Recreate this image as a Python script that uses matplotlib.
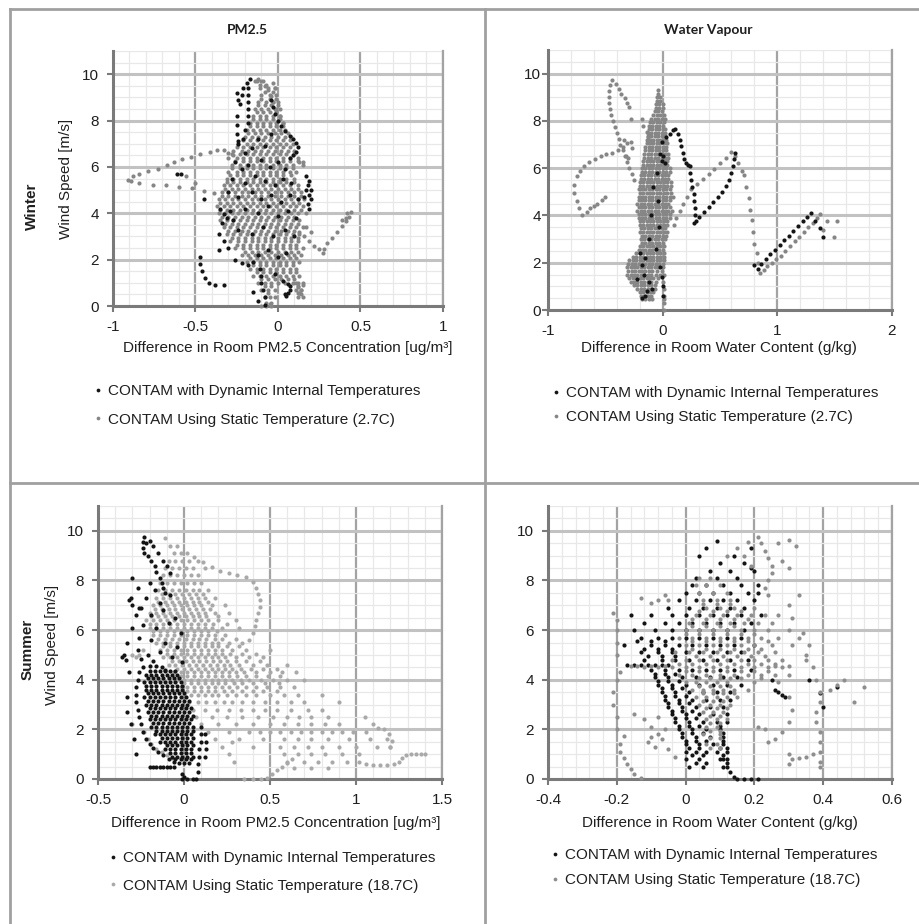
import matplotlib.pyplot as plt
from matplotlib.lines import Line2D
from matplotlib.ticker import MultipleLocator

plt.rcParams['font.family'] = ['Liberation Sans', 'DejaVu Sans']
plt.rcParams['axes.unicode_minus'] = False

# Values (x = difference, y = wind speed m/s)
# Clouds are given as rows: (wind speed, [differences...])

# ---- Winter, PM2.5 ----
w_pm_dyn_top = [(-0.25, 9.2), (-0.24, 8.9), (-0.23, 8.7), (-0.22, 9.1), (-0.21, 9.4),
                (-0.19, 9.6), (-0.17, 9.8), (-0.18, 9.4), (-0.18, 9.1), (-0.18, 8.8),
                (-0.18, 8.5), (-0.18, 8.2), (-0.18, 7.9), (-0.25, 8.2), (-0.25, 7.8),
                (-0.25, 7.4), (-0.24, 7.1), (-0.2, 7.6), (-0.21, 7.2)]
w_pm_dyn_curve = [(-0.04, 8.9), (-0.03, 8.6), (-0.02, 8.3), (0.0, 8.0), (0.02, 7.75),
                  (0.04, 7.55), (0.07, 7.35), (0.09, 7.2), (0.11, 7.05), (0.12, 6.85),
                  (0.11, 6.65), (0.09, 6.5), (0.07, 6.4)]
w_pm_dyn_side = [(0.17, 5.6), (0.19, 5.4), (0.18, 5.2), (0.2, 5.0), (0.19, 4.8), (0.2, 4.6),
                 (0.18, 4.4), (0.19, 4.2), (0.17, 5.0), (0.16, 4.7), (0.04, 0.5), (0.05, 0.45),
                 (0.06, 0.55), (0.07, 0.7), (0.07, 0.85), (0.06, 0.95), (-0.59, 5.7),
                 (-0.61, 5.7), (-0.45, 4.6), (-0.47, 2.1), (-0.47, 1.8), (-0.46, 1.5),
                 (-0.44, 1.2), (-0.42, 1.0), (-0.38, 0.9), (-0.33, 0.9)]
w_pm_dyn_cloud = [(-0.24, 7.0), (-0.2, 6.6), (-0.16, 6.8), (-0.12, 7.2), (-0.08, 6.9), (-0.04, 7.4),
                  (-0.26, 6.2), (-0.22, 5.9), (-0.18, 6.1), (-0.1, 6.3), (-0.05, 6.0), (0.0, 6.2),
                  (0.04, 5.9), (-0.28, 5.5), (-0.2, 5.3), (-0.14, 5.6), (-0.08, 5.4), (-0.02, 5.2),
                  (0.03, 5.5), (0.08, 5.3), (-0.3, 4.9), (-0.24, 4.7), (-0.16, 4.9), (-0.1, 4.6),
                  (-0.04, 4.8), (0.02, 4.5), (0.07, 4.8), (0.12, 4.6), (-0.35, 4.2), (-0.33, 3.95),
                  (-0.31, 3.8), (-0.29, 4.1), (-0.34, 3.6), (-0.27, 3.7), (-0.2, 4.2), (-0.12, 4.0),
                  (-0.06, 4.3), (0.0, 3.9), (0.06, 4.1), (0.11, 3.8), (-0.36, 3.1), (-0.33, 2.8),
                  (-0.3, 2.5), (-0.36, 2.4), (-0.24, 3.3), (-0.16, 3.1), (-0.09, 3.4), (-0.03, 3.0),
                  (0.04, 3.3), (0.1, 3.0), (-0.26, 2.0), (-0.22, 1.85), (-0.18, 1.75), (-0.15, 1.9),
                  (-0.12, 2.2), (-0.06, 2.4), (0.0, 2.1), (0.05, 2.3), (-0.11, 1.6), (-0.1, 1.3),
                  (-0.1, 1.0), (-0.09, 0.7), (-0.08, 0.4), (-0.02, 1.4), (0.03, 1.1), (-0.15, 0.6),
                  (-0.12, 0.2), (-0.08, 0.05)]
w_pm_stat_rows = [
    (9.7, [-0.13, -0.09]), (9.4, [-0.11, -0.06, -0.02]), (9.1, [-0.1, -0.05, -0.01]),
    (8.8, [-0.12, -0.07, -0.03, 0.0]), (8.5, [-0.14, -0.1, -0.06, -0.02, 0.01]),
    (8.2, [-0.15, -0.11, -0.07, -0.03, 0.01]), (7.9, [-0.17, -0.13, -0.09, -0.05, -0.01, 0.03]),
    (7.6, [-0.19, -0.15, -0.11, -0.07, -0.03, 0.01, 0.04]),
    (7.3, [-0.2, -0.16, -0.12, -0.08, -0.04, 0.0, 0.04, 0.08]),
    (7.0, [-0.24, -0.19, -0.15, -0.11, -0.07, -0.03, 0.01, 0.05, 0.09]),
    (6.7, [-0.27, -0.22, -0.18, -0.14, -0.1, -0.06, -0.02, 0.02, 0.06, 0.1]),
    (6.4, [-0.3, -0.25, -0.21, -0.17, -0.13, -0.09, -0.05, -0.01, 0.03, 0.07, 0.12]),
    (6.1, [-0.28, -0.23, -0.19, -0.15, -0.11, -0.07, -0.03, 0.01, 0.05, 0.09, 0.15]),
    (5.8, [-0.3, -0.25, -0.21, -0.17, -0.13, -0.09, -0.05, -0.01, 0.03, 0.07, 0.11]),
    (5.5, [-0.31, -0.27, -0.23, -0.19, -0.15, -0.11, -0.07, -0.03, 0.01, 0.05, 0.1]),
    (5.2, [-0.33, -0.29, -0.25, -0.21, -0.17, -0.13, -0.09, -0.05, -0.01, 0.03, 0.07, 0.12]),
    (4.9, [-0.34, -0.3, -0.26, -0.22, -0.18, -0.14, -0.1, -0.06, -0.02, 0.02, 0.06, 0.1, 0.14]),
    (4.6, [-0.36, -0.32, -0.28, -0.24, -0.2, -0.16, -0.12, -0.08, -0.04, 0.0, 0.04, 0.08, 0.12,
           0.16]),
    (4.3, [-0.37, -0.33, -0.29, -0.25, -0.21, -0.17, -0.13, -0.09, -0.05, -0.01, 0.03, 0.07,
           0.11, 0.15]),
    (4.0, [-0.36, -0.32, -0.28, -0.24, -0.2, -0.16, -0.12, -0.08, -0.04, 0.0, 0.04, 0.08, 0.12,
           0.17]),
    (3.7, [-0.35, -0.31, -0.27, -0.23, -0.19, -0.15, -0.11, -0.07, -0.03, 0.01, 0.05, 0.09,
           0.13]),
    (3.4, [-0.33, -0.29, -0.25, -0.21, -0.17, -0.13, -0.09, -0.05, -0.01, 0.03, 0.07, 0.11,
           0.15]),
    (3.1, [-0.31, -0.27, -0.23, -0.19, -0.15, -0.11, -0.07, -0.03, 0.01, 0.05, 0.09, 0.13]),
    (2.8, [-0.29, -0.24, -0.2, -0.16, -0.12, -0.08, -0.04, 0.0, 0.04, 0.08, 0.12]),
    (2.5, [-0.26, -0.21, -0.17, -0.13, -0.09, -0.05, -0.01, 0.03, 0.07, 0.11, 0.15]),
    (2.2, [-0.22, -0.18, -0.14, -0.1, -0.06, -0.02, 0.02, 0.06, 0.1, 0.14]),
    (1.9, [-0.19, -0.15, -0.11, -0.07, -0.03, 0.01, 0.05, 0.09, 0.13]),
    (1.6, [-0.17, -0.13, -0.09, -0.05, -0.01, 0.03, 0.07, 0.11]),
    (1.3, [-0.15, -0.11, -0.07, -0.03, 0.01, 0.05, 0.09, 0.13]),
    (1.0, [-0.12, -0.08, -0.04, 0.0, 0.04, 0.09, 0.12, 0.15]),
    (0.7, [-0.1, -0.06, -0.02, 0.11, 0.14]), (0.4, [-0.08, -0.05, -0.02, 0.12, 0.15]),
    (0.15, [-0.07, -0.04])]
w_pm_stat_fill = [
    (9.55, [-0.11, -0.07]), (9.25, [-0.08, -0.03]), (8.95, [-0.1, -0.05, -0.01]),
    (8.65, [-0.12, -0.08, -0.04, 0.0]), (8.35, [-0.13, -0.09, -0.05, -0.01]),
    (8.05, [-0.15, -0.11, -0.07, -0.03, 0.01]), (7.75, [-0.17, -0.13, -0.09, -0.05, -0.01, 0.03]),
    (7.45, [-0.18, -0.14, -0.1, -0.06, -0.02, 0.02, 0.06]),
    (7.15, [-0.21, -0.17, -0.13, -0.09, -0.05, -0.01, 0.03, 0.07]),
    (6.85, [-0.25, -0.21, -0.17, -0.13, -0.09, -0.05, -0.01, 0.03, 0.07]),
    (6.55, [-0.28, -0.23, -0.19, -0.15, -0.11, -0.07, -0.03, 0.01, 0.05, 0.1]),
    (6.25, [-0.26, -0.21, -0.17, -0.13, -0.09, -0.05, -0.01, 0.03, 0.07, 0.12]),
    (5.95, [-0.28, -0.23, -0.19, -0.15, -0.11, -0.07, -0.03, 0.01, 0.05, 0.09]),
    (5.65, [-0.29, -0.25, -0.21, -0.17, -0.13, -0.09, -0.05, -0.01, 0.03, 0.08]),
    (5.35, [-0.31, -0.27, -0.23, -0.19, -0.15, -0.11, -0.07, -0.03, 0.01, 0.05, 0.1]),
    (5.05, [-0.32, -0.28, -0.24, -0.2, -0.16, -0.12, -0.08, -0.04, 0.0, 0.04, 0.08, 0.12]),
    (4.75, [-0.34, -0.3, -0.26, -0.22, -0.18, -0.14, -0.1, -0.06, -0.02, 0.02, 0.06, 0.1, 0.14]),
    (4.45, [-0.35, -0.31, -0.27, -0.23, -0.19, -0.15, -0.11, -0.07, -0.03, 0.01, 0.05, 0.09,
            0.13]),
    (4.15, [-0.35, -0.31, -0.27, -0.23, -0.19, -0.15, -0.11, -0.07, -0.03, 0.01, 0.05, 0.1,
            0.14]),
    (3.85, [-0.34, -0.3, -0.26, -0.22, -0.18, -0.14, -0.1, -0.06, -0.02, 0.02, 0.06, 0.1]),
    (3.55, [-0.32, -0.28, -0.24, -0.2, -0.16, -0.12, -0.08, -0.04, 0.0, 0.04, 0.08, 0.12]),
    (3.25, [-0.3, -0.26, -0.22, -0.18, -0.14, -0.1, -0.06, -0.02, 0.02, 0.06, 0.1]),
    (2.95, [-0.28, -0.24, -0.2, -0.16, -0.12, -0.08, -0.04, 0.0, 0.04, 0.08, 0.12]),
    (2.65, [-0.25, -0.21, -0.17, -0.13, -0.09, -0.05, -0.01, 0.03, 0.07, 0.11]),
    (2.35, [-0.2, -0.16, -0.12, -0.08, -0.04, 0.0, 0.04, 0.08, 0.12]),
    (2.05, [-0.17, -0.13, -0.09, -0.05, -0.01, 0.03, 0.07, 0.11]),
    (1.75, [-0.15, -0.11, -0.07, -0.03, 0.01, 0.05, 0.09]),
    (1.45, [-0.13, -0.09, -0.05, -0.01, 0.03, 0.07, 0.11]),
    (1.15, [-0.1, -0.06, -0.02, 0.02, 0.06, 0.1]), (0.85, [-0.08, -0.04, 0.12]),
    (0.55, [-0.06, 0.13])]
w_pm_stat_top = [(-0.14, 9.7), (-0.12, 9.8), (-0.1, 9.7), (-0.08, 9.5), (-0.06, 9.3), (-0.04, 9.05),
                 (-0.03, 8.8), (-0.01, 8.5), (0.01, 8.2), (0.03, 7.9), (-0.03, 9.6), (-0.02, 9.4)]
w_pm_stat_loop = [(-0.33, 6.75), (-0.37, 6.72), (-0.41, 6.65), (-0.47, 6.55), (-0.53, 6.44),
                  (-0.58, 6.32), (-0.63, 6.22), (-0.67, 6.08), (-0.73, 5.93), (-0.79, 5.82),
                  (-0.84, 5.7), (-0.88, 5.6), (-0.91, 5.45), (-0.89, 5.38), (-0.84, 5.32),
                  (-0.76, 5.24), (-0.68, 5.2), (-0.6, 5.14), (-0.52, 5.07), (-0.45, 4.97),
                  (-0.39, 4.86), (-0.3, 6.6), (-0.27, 6.5), (-0.56, 5.6), (-0.5, 5.3)]
w_pm_stat_tail = [(0.13, 3.2), (0.16, 3.0), (0.19, 2.8), (0.22, 2.6), (0.25, 2.45), (0.27, 2.3),
                  (0.28, 2.45), (0.3, 2.7), (0.33, 2.95), (0.36, 3.2), (0.39, 3.45), (0.41, 3.65),
                  (0.43, 3.85), (0.44, 4.05), (0.42, 4.0), (0.41, 3.8), (0.39, 3.7), (0.17, 3.4),
                  (0.2, 3.2), (0.13, 6.2), (0.15, 6.2), (0.11, 1.0), (0.12, 0.8), (0.14, 0.7),
                  (0.15, 0.9), (0.14, 0.5), (0.12, 0.55), (-0.05, 0.1), (-0.04, 0.0),
                  (-0.07, 0.0), (-0.1, 0.0)]

# ---- Winter, water vapour ----
w_wv_dyn_arm = [(-0.01, 7.1), (0.03, 7.3), (0.06, 7.45), (0.09, 7.6), (0.11, 7.65), (0.13, 7.45),
                (0.15, 7.2), (0.16, 6.95), (0.18, 6.65), (0.19, 6.4), (0.2, 6.2), (0.22, 6.15),
                (0.24, 6.1), (0.24, 5.8), (0.25, 5.5), (0.26, 5.2), (0.27, 4.9), (0.27, 4.6),
                (0.28, 4.3), (0.28, 4.0), (0.27, 3.7), (0.29, 3.75), (0.32, 3.95), (0.36, 4.15),
                (0.4, 4.35), (0.44, 4.55), (0.48, 4.8), (0.52, 5.0), (0.55, 5.25), (0.58, 5.5),
                (0.6, 5.8), (0.61, 6.1), (0.62, 6.4), (0.63, 6.65)]
w_wv_dyn_tail = [(0.8, 1.9), (0.83, 1.75), (0.86, 1.95), (0.9, 2.15), (0.94, 2.35), (0.98, 2.55),
                 (1.02, 2.75), (1.06, 2.95), (1.1, 3.15), (1.14, 3.35), (1.18, 3.55), (1.22, 3.75),
                 (1.26, 3.95), (1.29, 4.1), (1.33, 3.75), (1.37, 3.45), (1.4, 3.1)]
w_wv_dyn_cloud = [(-0.02, 6.6), (-0.01, 6.3), (0.0, 6.5), (0.02, 6.2), (-0.05, 5.8), (-0.08, 5.2),
                  (-0.04, 4.6), (-0.1, 4.0), (-0.03, 3.5), (-0.12, 3.0), (-0.06, 2.6), (-0.15, 2.2),
                  (-0.18, 1.9), (-0.16, 1.5), (-0.12, 1.2), (-0.09, 0.9), (-0.15, 0.6), (-0.18, 0.5),
                  (-0.02, 1.8), (-0.01, 1.4), (0.0, 1.0), (0.0, 0.6), (-0.2, 2.4), (-0.22, 1.3),
                  (-0.14, 0.8)]
w_wv_stat_rows = [
    (9.3, [-0.04]), (9.0, [-0.05, -0.02]), (8.7, [-0.06, -0.03, 0.0]),
    (8.4, [-0.07, -0.04, -0.01]), (8.1, [-0.1, -0.07, -0.04, -0.01, 0.02]),
    (7.8, [-0.12, -0.09, -0.06, -0.03, 0.0]), (7.5, [-0.13, -0.1, -0.07, -0.04, -0.01, 0.02]),
    (7.2, [-0.14, -0.11, -0.08, -0.05, -0.02, 0.01, 0.03]),
    (6.9, [-0.15, -0.12, -0.09, -0.06, -0.03, 0.0, 0.03]),
    (6.6, [-0.16, -0.13, -0.1, -0.07, -0.04, -0.01, 0.02, 0.05]),
    (6.3, [-0.17, -0.14, -0.11, -0.08, -0.05, -0.02, 0.01, 0.04]),
    (6.0, [-0.18, -0.15, -0.12, -0.09, -0.06, -0.03, 0.0, 0.03, 0.06]),
    (5.7, [-0.19, -0.16, -0.13, -0.1, -0.07, -0.04, -0.01, 0.02, 0.05]),
    (5.4, [-0.2, -0.17, -0.14, -0.11, -0.08, -0.05, -0.02, 0.01, 0.04, 0.07]),
    (5.1, [-0.21, -0.18, -0.15, -0.12, -0.09, -0.06, -0.03, 0.0, 0.03, 0.06]),
    (4.8, [-0.21, -0.18, -0.15, -0.12, -0.09, -0.06, -0.03, 0.0, 0.03, 0.06, 0.09]),
    (4.5, [-0.22, -0.19, -0.16, -0.13, -0.1, -0.07, -0.04, -0.01, 0.02, 0.05]),
    (4.2, [-0.22, -0.19, -0.16, -0.13, -0.1, -0.07, -0.04, -0.01, 0.02, 0.05, 0.08]),
    (3.9, [-0.21, -0.18, -0.15, -0.12, -0.09, -0.06, -0.03, 0.0, 0.03, 0.06]),
    (3.6, [-0.2, -0.17, -0.14, -0.11, -0.08, -0.05, -0.02, 0.01, 0.04]),
    (3.3, [-0.2, -0.17, -0.14, -0.11, -0.08, -0.05, -0.02, 0.01, 0.04]),
    (3.0, [-0.19, -0.16, -0.13, -0.1, -0.07, -0.04, -0.01, 0.02]),
    (2.7, [-0.2, -0.17, -0.14, -0.11, -0.08, -0.05, -0.02, 0.01]),
    (2.4, [-0.23, -0.2, -0.17, -0.14, -0.11, -0.08, -0.05, -0.02, 0.01]),
    (2.1, [-0.29, -0.26, -0.23, -0.2, -0.17, -0.14, -0.11, -0.08, -0.05, -0.02, 0.01]),
    (1.8, [-0.31, -0.28, -0.25, -0.22, -0.19, -0.16, -0.13, -0.1, -0.07, -0.04, 0.0]),
    (1.5, [-0.31, -0.28, -0.25, -0.22, -0.19, -0.16, -0.13, -0.1, -0.06, -0.02, 0.01]),
    (1.2, [-0.28, -0.25, -0.22, -0.19, -0.16, -0.13, -0.1, -0.06, 0.0]),
    (0.9, [-0.22, -0.19, -0.16, -0.13, -0.1, -0.07, 0.01]),
    (0.6, [-0.19, -0.16, -0.13, -0.1, 0.01]), (0.3, [0.01]), (0.0, [0.01])]
w_wv_stat_fill = [
    (9.15, [-0.04]), (8.85, [-0.05, -0.02]), (8.55, [-0.06, -0.03, 0.0]),
    (8.25, [-0.08, -0.05, -0.02, 0.01]), (7.95, [-0.11, -0.08, -0.05, -0.02, 0.01]),
    (7.65, [-0.12, -0.09, -0.06, -0.03, 0.0, 0.02]),
    (7.35, [-0.13, -0.1, -0.07, -0.04, -0.01, 0.02]),
    (7.05, [-0.14, -0.11, -0.08, -0.05, -0.02, 0.01, 0.04]),
    (6.75, [-0.15, -0.12, -0.09, -0.06, -0.03, 0.0, 0.03]),
    (6.45, [-0.16, -0.13, -0.1, -0.07, -0.04, -0.01, 0.02, 0.05]),
    (6.15, [-0.17, -0.14, -0.11, -0.08, -0.05, -0.02, 0.01, 0.04]),
    (5.85, [-0.18, -0.15, -0.12, -0.09, -0.06, -0.03, 0.0, 0.03, 0.06]),
    (5.55, [-0.19, -0.16, -0.13, -0.1, -0.07, -0.04, -0.01, 0.02, 0.05]),
    (5.25, [-0.2, -0.17, -0.14, -0.11, -0.08, -0.05, -0.02, 0.01, 0.04, 0.07]),
    (4.95, [-0.2, -0.17, -0.14, -0.11, -0.08, -0.05, -0.02, 0.01, 0.04, 0.07]),
    (4.65, [-0.21, -0.18, -0.15, -0.12, -0.09, -0.06, -0.03, 0.0, 0.03, 0.06]),
    (4.35, [-0.21, -0.18, -0.15, -0.12, -0.09, -0.06, -0.03, 0.0, 0.03, 0.06]),
    (4.05, [-0.21, -0.18, -0.15, -0.12, -0.09, -0.06, -0.03, 0.0, 0.03, 0.06]),
    (3.75, [-0.2, -0.17, -0.14, -0.11, -0.08, -0.05, -0.02, 0.01, 0.04]),
    (3.45, [-0.19, -0.16, -0.13, -0.1, -0.07, -0.04, -0.01, 0.02]),
    (3.15, [-0.18, -0.15, -0.12, -0.09, -0.06, -0.03, 0.0, 0.03]),
    (2.85, [-0.18, -0.15, -0.12, -0.09, -0.06, -0.03, 0.0]),
    (2.55, [-0.21, -0.18, -0.15, -0.12, -0.09, -0.06, -0.03, 0.0]),
    (2.25, [-0.26, -0.23, -0.2, -0.17, -0.14, -0.11, -0.08, -0.05, -0.02, 0.01]),
    (1.95, [-0.3, -0.27, -0.24, -0.21, -0.18, -0.15, -0.12, -0.09, -0.06, -0.03, 0.0]),
    (1.65, [-0.3, -0.27, -0.24, -0.21, -0.18, -0.15, -0.12, -0.09, -0.05, -0.01]),
    (1.35, [-0.29, -0.26, -0.23, -0.2, -0.17, -0.14, -0.11, -0.08, -0.04]),
    (1.05, [-0.25, -0.22, -0.19, -0.16, -0.13, -0.1, -0.07]),
    (0.75, [-0.2, -0.17, -0.14, -0.11, -0.08]), (0.45, [-0.18, -0.15, -0.12, -0.09, 0.01])]
w_wv_stat_loop = [(-0.5, 4.8), (-0.53, 4.65), (-0.57, 4.5), (-0.6, 4.4), (-0.63, 4.3), (-0.66, 4.15),
                  (-0.7, 4.02), (-0.73, 4.3), (-0.75, 4.6), (-0.77, 4.95), (-0.77, 5.3), (-0.75, 5.65),
                  (-0.72, 5.9), (-0.69, 6.1), (-0.64, 6.28), (-0.59, 6.4), (-0.54, 6.5), (-0.49, 6.58),
                  (-0.44, 6.66), (-0.39, 6.78), (-0.35, 6.9), (-0.31, 7.05)]
w_wv_stat_spike = [(-0.44, 9.75), (-0.46, 9.5), (-0.47, 9.25), (-0.47, 9.0), (-0.47, 8.75),
                   (-0.46, 8.5), (-0.45, 8.25), (-0.43, 8.0), (-0.42, 7.75), (-0.4, 7.5),
                   (-0.38, 7.25), (-0.37, 7.0), (-0.35, 6.75), (-0.33, 6.5), (-0.31, 6.25),
                   (-0.29, 6.0), (-0.27, 5.75), (-0.25, 5.5), (-0.41, 9.55), (-0.38, 9.35),
                   (-0.36, 9.15), (-0.33, 8.95), (-0.31, 8.75), (-0.29, 8.6), (-0.28, 8.1),
                   (-0.18, 8.1), (-0.17, 7.8), (-0.14, 7.55), (-0.13, 7.3), (-0.34, 7.2),
                   (-0.28, 7.1), (-0.27, 6.85), (-0.32, 6.5), (-0.3, 6.45)]
w_wv_stat_right = [(0.1, 3.6), (0.12, 3.9), (0.15, 4.2), (0.18, 4.5), (0.21, 4.8), (0.25, 5.1),
                   (0.3, 5.35), (0.35, 5.55), (0.4, 5.75), (0.45, 5.95), (0.5, 6.2), (0.55, 6.45),
                   (0.6, 6.7), (0.63, 6.5), (0.66, 6.2), (0.69, 5.9), (0.71, 5.7), (0.73, 5.2),
                   (0.75, 4.75), (0.76, 4.25), (0.78, 3.8), (0.79, 3.3), (0.8, 2.8), (0.82, 2.4),
                   (0.83, 2.0), (0.85, 1.55), (0.88, 1.7), (0.91, 1.85), (0.95, 2.0), (0.99, 2.15),
                   (1.03, 2.3), (1.07, 2.5), (1.11, 2.7), (1.15, 2.9), (1.19, 3.1), (1.23, 3.3),
                   (1.27, 3.5), (1.31, 3.7), (1.35, 3.9), (1.37, 4.05), (1.4, 3.4), (1.43, 3.75),
                   (1.49, 3.1), (1.52, 3.75)]

# ---- Summer, PM2.5 ----
s_pm_dyn_top = [(-0.23, 9.75), (-0.24, 9.55), (-0.24, 9.3), (-0.23, 9.1), (-0.21, 9.0), (-0.19, 8.8),
                (-0.17, 8.6), (-0.16, 8.35), (-0.14, 8.1), (-0.13, 7.9), (-0.12, 7.7), (-0.11, 7.5),
                (-0.22, 9.5), (-0.2, 9.6), (-0.18, 9.4), (-0.15, 9.1), (-0.12, 8.8), (-0.1, 8.6),
                (-0.08, 8.3)]
s_pm_dyn_left = [(-0.3, 8.1), (-0.31, 7.3), (-0.32, 7.2), (-0.3, 7.0), (-0.28, 6.6), (-0.3, 6.1),
                 (-0.33, 5.5), (-0.35, 5.0), (-0.36, 4.9), (-0.34, 4.8), (-0.32, 4.3), (-0.33, 3.3),
                 (-0.33, 2.7), (-0.31, 2.2), (-0.29, 1.6), (-0.28, 1.0), (-0.27, 7.7), (-0.26, 6.9)]
s_pm_dyn_loop = [(-0.24, 4.5), (-0.2, 4.55), (-0.16, 4.55), (-0.13, 4.5), (-0.11, 4.4), (-0.26, 4.3),
                 (-0.27, 4.0), (-0.28, 3.7), (-0.28, 3.4), (-0.28, 3.1), (-0.27, 2.8), (-0.26, 2.5),
                 (-0.25, 2.2), (-0.24, 1.9), (-0.22, 1.6), (-0.2, 1.4), (-0.18, 1.25), (-0.15, 1.1),
                 (-0.12, 0.95), (-0.09, 0.8), (-0.06, 0.7)]
s_pm_dyn_floor = [(-0.2, 0.5), (-0.18, 0.5), (-0.16, 0.5), (-0.14, 0.5), (-0.12, 0.5), (-0.1, 0.5),
                  (-0.08, 0.5), (-0.06, 0.5), (-0.01, 0.0), (0.02, 0.0), (0.05, 0.0), (0.07, 0.0),
                  (0.08, 0.3), (0.08, 0.6), (0.09, 0.9), (0.09, 1.2), (0.1, 1.5), (0.1, 1.8),
                  (0.1, 2.1), (0.12, 0.9), (0.13, 1.2), (0.13, 1.5), (0.12, 1.8), (-0.01, 0.2),
                  (0.0, 0.1)]
s_pm_dyn_upper = [(-0.2, 7.9), (-0.17, 7.6), (-0.22, 7.3), (-0.14, 7.1), (-0.08, 7.4), (-0.25, 6.9),
                  (-0.19, 6.6), (-0.12, 6.8), (-0.05, 6.5), (-0.24, 6.2), (-0.16, 6.1), (-0.09, 6.3),
                  (-0.02, 5.9), (-0.26, 5.7), (-0.19, 5.6), (-0.11, 5.5), (-0.04, 5.3), (-0.27, 5.2),
                  (-0.21, 5.0), (-0.14, 5.1), (-0.07, 4.9), (-0.01, 4.7), (-0.25, 4.85), (-0.18, 4.75)]
s_pm_dyn_rows = [
    (4.2, [-0.22, -0.19, -0.16, -0.13, -0.1, -0.07, -0.04]),
    (3.9, [-0.23, -0.2, -0.17, -0.14, -0.11, -0.08, -0.05, -0.02]),
    (3.6, [-0.22, -0.19, -0.16, -0.13, -0.1, -0.07, -0.04, -0.01]),
    (3.3, [-0.23, -0.2, -0.17, -0.14, -0.11, -0.08, -0.05, -0.02, 0.01]),
    (3.0, [-0.22, -0.19, -0.16, -0.13, -0.1, -0.07, -0.04, -0.01, 0.02]),
    (2.7, [-0.21, -0.18, -0.15, -0.12, -0.09, -0.06, -0.03, 0.0, 0.03]),
    (2.4, [-0.2, -0.17, -0.14, -0.11, -0.08, -0.05, -0.02, 0.01, 0.04]),
    (2.1, [-0.19, -0.16, -0.13, -0.1, -0.07, -0.04, -0.01, 0.02, 0.05]),
    (1.8, [-0.17, -0.14, -0.11, -0.08, -0.05, -0.02, 0.01, 0.04]),
    (1.5, [-0.14, -0.11, -0.08, -0.05, -0.02, 0.01, 0.04]),
    (1.2, [-0.11, -0.08, -0.05, -0.02, 0.01, 0.04]), (0.9, [-0.07, -0.04, -0.01, 0.02, 0.05]),
    (0.65, [-0.03, 0.0, 0.03])]
s_pm_dyn_fill = [
    (4.35, [-0.2, -0.17, -0.14, -0.11, -0.08, -0.05]),
    (4.05, [-0.21, -0.18, -0.15, -0.12, -0.09, -0.06, -0.03]),
    (3.75, [-0.22, -0.19, -0.16, -0.13, -0.1, -0.07, -0.04, -0.01]),
    (3.45, [-0.21, -0.18, -0.15, -0.12, -0.09, -0.06, -0.03, 0.0]),
    (3.15, [-0.21, -0.18, -0.15, -0.12, -0.09, -0.06, -0.03, 0.0, 0.03]),
    (2.85, [-0.2, -0.17, -0.14, -0.11, -0.08, -0.05, -0.02, 0.01, 0.04]),
    (2.55, [-0.19, -0.16, -0.13, -0.1, -0.07, -0.04, -0.01, 0.02, 0.05]),
    (2.25, [-0.18, -0.15, -0.12, -0.09, -0.06, -0.03, 0.0, 0.03]),
    (1.95, [-0.16, -0.13, -0.1, -0.07, -0.04, -0.01, 0.02, 0.05]),
    (1.65, [-0.13, -0.1, -0.07, -0.04, -0.01, 0.02, 0.05]),
    (1.35, [-0.1, -0.07, -0.04, -0.01, 0.02, 0.05]), (1.05, [-0.08, -0.05, -0.02, 0.01, 0.04]),
    (0.8, [-0.05, -0.02, 0.01, 0.04])]
s_pm_stat_rows = [
    (9.7, [-0.11]), (9.4, [-0.08, -0.04]), (9.1, [-0.06, -0.02, 0.02]),
    (8.8, [-0.09, -0.05, -0.01, 0.03, 0.08]), (8.5, [-0.11, -0.07, -0.03, 0.01, 0.05, 0.12]),
    (8.2, [-0.12, -0.08, -0.04, 0.0, 0.04, 0.08]), (7.9, [-0.14, -0.1, -0.06, -0.02, 0.02, 0.06, 0.1]),
    (7.6, [-0.15, -0.11, -0.07, -0.03, 0.01, 0.05, 0.09, 0.14]),
    (7.3, [-0.16, -0.12, -0.08, -0.04, 0.0, 0.04, 0.08, 0.12, 0.18]),
    (7.0, [-0.18, -0.14, -0.1, -0.06, -0.02, 0.02, 0.06, 0.1, 0.16, 0.24]),
    (6.7, [-0.2, -0.16, -0.12, -0.08, -0.04, 0.0, 0.04, 0.08, 0.12, 0.18, 0.26]),
    (6.4, [-0.22, -0.18, -0.14, -0.1, -0.06, -0.02, 0.02, 0.06, 0.1, 0.14, 0.2, 0.3]),
    (6.1, [-0.2, -0.16, -0.12, -0.08, -0.04, 0.0, 0.04, 0.08, 0.12, 0.16, 0.22, 0.32]),
    (5.8, [-0.18, -0.14, -0.1, -0.06, -0.02, 0.02, 0.06, 0.1, 0.14, 0.18, 0.24]),
    (5.5, [-0.16, -0.12, -0.08, -0.04, 0.0, 0.04, 0.08, 0.12, 0.16, 0.2, 0.26, 0.34]),
    (5.2, [-0.24, -0.14, -0.1, -0.06, -0.02, 0.02, 0.06, 0.1, 0.14, 0.18, 0.22, 0.28, 0.36, 0.5]),
    (4.9, [-0.28, -0.12, -0.08, -0.04, 0.0, 0.04, 0.08, 0.12, 0.16, 0.2, 0.24, 0.3, 0.38, 0.46]),
    (4.6, [-0.09, -0.05, -0.01, 0.03, 0.07, 0.11, 0.15, 0.19, 0.23, 0.27, 0.32, 0.4, 0.48, 0.6]),
    (4.3, [-0.06, -0.02, 0.02, 0.06, 0.1, 0.14, 0.18, 0.22, 0.26, 0.3, 0.35, 0.42, 0.5, 0.57,
           0.65]),
    (4.0, [-0.04, 0.0, 0.04, 0.08, 0.12, 0.16, 0.2, 0.24, 0.28, 0.33, 0.38, 0.45, 0.52, 0.6,
           0.7]),
    (3.7, [-0.02, 0.02, 0.06, 0.1, 0.14, 0.18, 0.22, 0.26, 0.31, 0.36, 0.42, 0.48, 0.56, 0.64]),
    (3.4, [0.0, 0.04, 0.08, 0.12, 0.16, 0.2, 0.25, 0.3, 0.36, 0.42, 0.5, 0.58, 0.66, 0.8]),
    (3.1, [0.03, 0.08, 0.13, 0.18, 0.23, 0.28, 0.34, 0.4, 0.47, 0.54, 0.62, 0.7, 0.9]),
    (2.8, [0.05, 0.12, 0.19, 0.26, 0.33, 0.4, 0.47, 0.54, 0.62, 0.72, 0.8]),
    (2.5, [0.07, 0.16, 0.25, 0.34, 0.43, 0.52, 0.6, 0.67, 0.74, 0.84, 1.05]),
    (2.2, [0.1, 0.2, 0.3, 0.4, 0.5, 0.58, 0.66, 0.74, 0.82, 0.9, 1.1]),
    (1.9, [0.14, 0.26, 0.38, 0.44, 0.5, 0.56, 0.62, 0.68, 0.74, 0.8, 0.86, 0.92, 0.98, 1.06]),
    (1.6, [0.18, 0.32, 0.46, 0.58, 0.66, 0.74, 0.84, 0.96, 1.08, 1.18]),
    (1.3, [0.22, 0.4, 0.56, 0.64, 0.72, 0.8, 0.9, 1.0, 1.12, 1.2]),
    (1.0, [0.26, 0.58, 0.66, 0.74, 0.82, 0.92, 1.02]), (0.7, [0.6, 0.7, 0.78, 0.86, 0.95]),
    (0.45, [0.64, 0.74, 0.84])]
s_pm_stat_fill = [
    (7.45, [-0.13, -0.09, -0.05, -0.01, 0.03, 0.07, 0.11]),
    (7.15, [-0.15, -0.11, -0.07, -0.03, 0.01, 0.05, 0.09, 0.14]),
    (6.85, [-0.17, -0.13, -0.09, -0.05, -0.01, 0.03, 0.07, 0.11, 0.15]),
    (6.55, [-0.19, -0.15, -0.11, -0.07, -0.03, 0.01, 0.05, 0.09, 0.13, 0.2]),
    (6.25, [-0.2, -0.16, -0.12, -0.08, -0.04, 0.0, 0.04, 0.08, 0.12, 0.17, 0.25]),
    (5.95, [-0.18, -0.14, -0.1, -0.06, -0.02, 0.02, 0.06, 0.1, 0.14, 0.19]),
    (5.65, [-0.15, -0.11, -0.07, -0.03, 0.01, 0.05, 0.09, 0.13, 0.18, 0.22, 0.3]),
    (5.35, [-0.12, -0.08, -0.04, 0.0, 0.04, 0.08, 0.12, 0.16, 0.2, 0.25, 0.32]),
    (5.05, [-0.1, -0.06, -0.02, 0.02, 0.06, 0.1, 0.14, 0.18, 0.22, 0.27, 0.34, 0.42]),
    (4.75, [-0.07, -0.03, 0.01, 0.05, 0.09, 0.13, 0.17, 0.21, 0.25, 0.3, 0.36, 0.44]),
    (4.45, [-0.04, 0.0, 0.04, 0.08, 0.12, 0.16, 0.2, 0.24, 0.28, 0.33, 0.39, 0.46, 0.54]),
    (4.15, [-0.02, 0.02, 0.06, 0.1, 0.14, 0.18, 0.22, 0.26, 0.31, 0.36, 0.42, 0.49, 0.56]),
    (3.85, [0.0, 0.04, 0.08, 0.12, 0.16, 0.2, 0.24, 0.29, 0.34, 0.4, 0.47, 0.55]),
    (3.55, [0.02, 0.06, 0.1, 0.14, 0.18, 0.23, 0.28, 0.34, 0.4, 0.46, 0.54])]
s_pm_stat_arc = [(0.06, 8.95), (0.11, 8.75), (0.16, 8.55), (0.21, 8.4), (0.26, 8.3), (0.31, 8.2),
                 (0.36, 8.15), (0.4, 7.95), (0.42, 7.7), (0.43, 7.45), (0.44, 7.2), (0.44, 6.95),
                 (0.43, 6.7), (0.42, 6.4), (0.41, 6.15), (0.4, 5.9), (0.38, 5.6)]
s_pm_stat_tail = [(1.02, 0.7), (1.06, 0.6), (1.1, 0.55), (1.14, 0.55), (1.18, 0.55), (1.22, 0.6),
                  (1.25, 0.7), (1.27, 0.85), (1.29, 0.95), (1.32, 1.0), (1.35, 1.0), (1.38, 1.0),
                  (1.4, 1.0), (1.2, 1.3), (1.21, 1.55), (1.19, 1.8), (1.16, 2.0), (1.13, 2.05),
                  (0.35, 0.0), (0.4, 0.0), (0.45, 0.0), (0.48, 0.05), (0.51, 0.2), (0.54, 0.35),
                  (0.57, 0.5), (0.6, 0.65), (0.63, 0.8), (-0.23, 1.9), (-0.21, 1.6), (-0.19, 1.4),
                  (-0.16, 1.2), (-0.13, 1.1), (-0.1, 0.95), (-0.07, 0.85), (-0.3, 2.2),
                  (-0.26, 5.0), (-0.3, 5.0), (0.29, 0.7), (0.28, 1.5)]

# ---- Summer, water vapour ----
s_wv_dyn_rows = [
    (9.6, [0.09]), (9.3, [0.06, 0.19]), (9.0, [0.04, 0.14]), (8.7, [0.1, 0.17]),
    (8.4, [0.07, 0.13, 0.2]), (8.1, [0.03, 0.09, 0.15]), (7.8, [0.02, 0.06, 0.11, 0.16, 0.21]),
    (7.5, [0.0, 0.04, 0.08, 0.13, 0.18]), (7.2, [-0.02, 0.03, 0.07, 0.11, 0.15, 0.2]),
    (6.9, [-0.05, 0.01, 0.05, 0.09, 0.13, 0.17]),
    (6.6, [-0.16, -0.1, -0.04, 0.0, 0.04, 0.08, 0.12, 0.16, 0.22]),
    (6.3, [-0.12, -0.06, -0.02, 0.02, 0.06, 0.1, 0.14, 0.19]),
    (6.0, [-0.15, -0.09, -0.04, 0.0, 0.04, 0.08, 0.12, 0.17]),
    (5.7, [-0.13, -0.08, -0.04, 0.0, 0.04, 0.08, 0.12, 0.16]),
    (5.4, [-0.18, -0.1, -0.06, -0.02, 0.02, 0.06, 0.1, 0.14, 0.2]),
    (5.1, [-0.13, -0.08, -0.04, 0.0, 0.04, 0.08, 0.12, 0.16]),
    (4.8, [-0.12, -0.07, -0.03, 0.01, 0.05, 0.09, 0.13, 0.18]),
    (4.6, [-0.17, -0.15, -0.13, -0.11, -0.09, -0.07, -0.05]),
    (4.4, [-0.1, -0.06, -0.02, 0.02, 0.06, 0.1, 0.14, 0.19]),
    (4.1, [-0.09, -0.05, -0.01, 0.03, 0.07, 0.11, 0.15]),
    (3.8, [-0.08, -0.04, 0.0, 0.04, 0.08, 0.12, 0.16]),
    (3.5, [-0.07, -0.03, 0.01, 0.05, 0.09, 0.13, 0.27]),
    (3.2, [-0.06, -0.02, 0.02, 0.06, 0.1, 0.13]), (2.9, [-0.05, -0.01, 0.03, 0.07, 0.11]),
    (2.6, [-0.04, 0.0, 0.04, 0.08, 0.12]), (2.3, [-0.03, 0.01, 0.05, 0.09, 0.12]),
    (2.0, [-0.02, 0.02, 0.06, 0.1]), (1.7, [-0.01, 0.03, 0.07, 0.11]),
    (1.4, [0.0, 0.04, 0.08, 0.11]), (1.1, [0.0, 0.03, 0.06, 0.09, 0.12]),
    (0.8, [0.0, 0.04, 0.1, 0.12]), (0.5, [0.01, 0.05, 0.11])]
s_wv_dyn_fill = [
    (5.55, [-0.14, -0.1, -0.06]), (5.25, [-0.12, -0.08, -0.04]), (4.95, [-0.11, -0.07, -0.03]),
    (4.25, [-0.09, -0.06, -0.03]), (3.95, [-0.08, -0.05, -0.02]), (3.65, [-0.07, -0.04, -0.01]),
    (3.35, [-0.06, -0.03, 0.0]), (3.05, [-0.05, -0.02, 0.01]), (2.75, [-0.04, -0.01, 0.02]),
    (2.45, [-0.03, 0.0, 0.03]), (2.15, [-0.02, 0.01, 0.04, 0.1]),
    (1.85, [-0.01, 0.02, 0.05, 0.11]), (1.55, [0.0, 0.03, 0.06, 0.11]),
    (1.25, [0.01, 0.04, 0.1, 0.12]), (0.95, [0.02, 0.05, 0.11]), (0.65, [0.03, 0.06, 0.12])]
s_wv_dyn_extra = [(0.11, 0.8), (0.12, 0.5), (0.13, 0.3), (0.14, 0.1), (0.15, 0.0), (0.17, 0.0),
                  (0.19, 0.0), (0.21, 0.0), (0.26, 3.6), (0.28, 3.4), (0.29, 3.3), (0.25, 4.0),
                  (0.36, 4.0), (0.39, 3.45), (0.44, 3.72), (0.4, 2.9), (0.21, 7.5), (0.19, 8.5)]
s_wv_stat_rows = [
    (8.1, [0.04, 0.07]), (7.8, [0.03, 0.06, 0.1]), (7.5, [0.04, 0.08, 0.12]),
    (7.2, [-0.08, -0.05, 0.05, 0.09, 0.13]), (6.9, [0.06, 0.1, 0.14, 0.2]),
    (6.6, [0.03, 0.07, 0.11, 0.15, 0.19, 0.23, 0.27]),
    (6.3, [0.01, 0.05, 0.09, 0.13, 0.17, 0.21, 0.25]),
    (6.0, [0.0, 0.04, 0.08, 0.12, 0.16, 0.2, 0.24, 0.3]),
    (5.7, [-0.02, 0.02, 0.06, 0.1, 0.14, 0.18, 0.22, 0.27, 0.33]),
    (5.4, [0.0, 0.04, 0.08, 0.12, 0.16, 0.2, 0.25, 0.31]),
    (5.1, [-0.03, 0.01, 0.05, 0.09, 0.13, 0.17, 0.21, 0.26]),
    (4.8, [-0.04, 0.0, 0.04, 0.08, 0.12, 0.16, 0.2, 0.24, 0.28, 0.35]),
    (4.5, [-0.12, -0.08, -0.04, 0.0, 0.04, 0.08, 0.12, 0.16, 0.2, 0.24, 0.28]),
    (4.2, [-0.02, 0.02, 0.06, 0.1, 0.14, 0.18, 0.22, 0.26, 0.3]),
    (3.9, [0.0, 0.03, 0.06, 0.09, 0.12, 0.2, 0.27]), (3.6, [0.02, 0.05, 0.08, 0.11, 0.14, 0.18]),
    (3.3, [0.03, 0.06, 0.09, 0.12, 0.15]), (3.0, [0.04, 0.07, 0.1, 0.13]),
    (2.7, [0.05, 0.08, 0.11]), (2.4, [0.06, 0.09, 0.12]), (2.1, [0.06, 0.09]),
    (1.8, [0.05, 0.1]), (1.4, [0.06, 0.09])]
s_wv_stat_fill = [
    (7.05, [0.05, 0.09, 0.13]), (6.75, [0.04, 0.08, 0.12, 0.16]),
    (6.45, [0.02, 0.06, 0.1, 0.14, 0.18]), (6.15, [0.02, 0.06, 0.1, 0.14]),
    (5.85, [0.0, 0.04, 0.08, 0.12, 0.16, 0.2]), (5.55, [0.02, 0.06, 0.1, 0.14, 0.18, 0.24]),
    (5.25, [0.02, 0.06, 0.1, 0.14, 0.18, 0.22]), (4.95, [0.03, 0.07, 0.11, 0.15, 0.19, 0.23]),
    (4.65, [-0.02, 0.02, 0.06, 0.1, 0.14, 0.18, 0.22, 0.26]),
    (4.55, [-0.16, -0.14, -0.1, -0.06, 0.26, 0.3]),
    (4.35, [0.0, 0.04, 0.08, 0.12, 0.16, 0.2, 0.24]), (4.05, [0.04, 0.07, 0.1, 0.13, 0.16, 0.22]),
    (3.75, [0.04, 0.07, 0.1, 0.13]), (3.45, [0.05, 0.08, 0.11, 0.14]), (3.15, [0.05, 0.08, 0.11]),
    (2.85, [0.06, 0.09, 0.12]), (2.55, [0.07, 0.1]), (2.25, [0.07, 0.1]), (1.95, [0.07, 0.1]),
    (1.65, [0.07, 0.1]), (1.25, [0.07, 0.1])]
s_wv_stat_arc = [(-0.13, 0.05), (-0.15, 0.2), (-0.16, 0.4), (-0.17, 0.6), (-0.18, 0.85), (-0.19, 1.1),
                 (-0.19, 1.4), (-0.18, 1.75), (-0.2, 2.0), (-0.2, 2.5), (-0.21, 3.0), (-0.21, 3.5),
                 (-0.2, 4.0), (-0.19, 4.3), (-0.2, 5.0), (-0.2, 5.5), (-0.2, 6.0), (-0.2, 6.4),
                 (-0.21, 6.7), (-0.12, 2.4), (-0.1, 2.1), (-0.08, 1.8), (-0.1, 1.7), (-0.11, 1.5),
                 (-0.09, 1.3), (-0.07, 1.6), (-0.06, 2.0), (-0.08, 2.5), (-0.13, 7.3), (-0.1, 7.1),
                 (-0.06, 7.4), (-0.15, 2.6), (-0.05, 1.2), (-0.03, 0.9)]
s_wv_stat_top = [(0.12, 9.0), (0.15, 9.3), (0.18, 9.55), (0.21, 9.75), (0.22, 9.5), (0.23, 9.2),
                 (0.24, 8.9), (0.25, 8.6), (0.25, 8.3), (0.24, 8.0), (0.23, 7.7), (0.24, 7.4),
                 (0.27, 9.5), (0.3, 9.65), (0.32, 9.4), (0.28, 8.8), (0.3, 8.5), (0.17, 9.0),
                 (0.19, 8.6)]
s_wv_stat_right = [(0.3, 7.0), (0.33, 7.4), (0.31, 6.5), (0.34, 5.9), (0.36, 5.4), (0.35, 5.0),
                   (0.37, 4.5), (0.38, 4.0), (0.39, 3.5), (0.39, 3.1), (0.38, 2.7), (0.38, 2.3),
                   (0.39, 1.9), (0.39, 1.5), (0.39, 1.1), (0.39, 0.7), (0.39, 0.5), (0.3, 0.6),
                   (0.31, 0.8), (0.33, 0.85), (0.35, 0.9), (0.37, 1.0), (0.3, 1.0), (0.42, 3.6),
                   (0.44, 3.8), (0.46, 4.0), (0.49, 3.1), (0.52, 3.7), (0.3, 3.3), (0.31, 2.8),
                   (0.3, 2.3), (0.28, 1.9), (0.26, 1.6), (0.23, 2.0), (0.21, 2.1), (0.24, 1.5)]

dyn_label = 'CONTAM with Dynamic Internal Temperatures'


def from_rows(rows):
    return [(x, y) for y, xs in rows for x in xs]


W, H = 920, 924
fig = plt.figure(figsize=(W / 100, H / 100), dpi=100)
TXT = '#1f1f1f'
FS = 11


def panel(box, xlim, xticks, xlabels, xminor, ypad, dyn, stat, stat_color,
          stat_label, xlabel, xlab_xy, leg_xy, leg_space, dyn_on_top):
    l, t, r, b = box
    ax = fig.add_axes([l / W, 1 - b / H, (r - l) / W, (b - t) / H])
    handles = []
    for pts, color, label, z in [(dyn, '#141414', dyn_label, 4 if dyn_on_top else 3),
                                 (stat, stat_color, stat_label, 3.5)]:
        h, = ax.plot([p[0] for p in pts], [p[1] for p in pts], ls='none', marker='o',
                     ms=3.0, mew=0, color=color, label=label, clip_on=False, zorder=z)
        handles.append(h)
    ax.set_xlim(*xlim)
    ax.set_ylim(0, 11)
    ax.set_xticks(xticks, xlabels)
    ax.set_yticks(range(0, 11, 2))
    ax.xaxis.set_minor_locator(MultipleLocator(xminor))
    ax.yaxis.set_minor_locator(MultipleLocator(0.5))
    ax.set_axisbelow(True)
    ax.grid(which='minor', color='#e8e8e8', lw=0.9)
    ax.xaxis.grid(which='major', color='#a3a3a3', lw=1.6)
    ax.yaxis.grid(which='major', color='#c2c2c2', lw=2.2)
    ax.spines['top'].set_visible(False)
    ax.spines['right'].set_color('#a3a3a3')
    ax.spines['right'].set_linewidth(1.6)
    for s in ('left', 'bottom'):
        ax.spines[s].set_color('#7a7a7a')
        ax.spines[s].set_linewidth(2.2)
    ax.tick_params(which='major', direction='out', length=4, width=1.5, color='#7a7a7a',
                   labelsize=FS, labelcolor=TXT)
    ax.tick_params(axis='y', pad=ypad)
    ax.tick_params(axis='x', pad=6)
    ax.tick_params(which='minor', length=0)
    fig.text(xlab_xy[0] / W, 1 - xlab_xy[1] / H, xlabel, ha='center', va='center',
             fontsize=FS, color=TXT)
    ax.legend(handles=handles, loc='upper left', bbox_to_anchor=(leg_xy[0] / W, 1 - leg_xy[1] / H),
              bbox_transform=fig.transFigure, frameon=False, fontsize=FS, numpoints=1,
              handlelength=0.6, handletextpad=0.35, borderpad=0, borderaxespad=0,
              labelspacing=leg_space, labelcolor=TXT, markerscale=0.9)
    return ax


pm_label = 'Difference in Room PM2.5 Concentration [ug/m³]'
wv_label = 'Difference in Room Water Content (g/kg)'

panel((113, 51, 443, 306), (-1, 1), [-1, -0.5, 0, 0.5, 1], ['-1', '-0.5', '0', '0.5', '1'],
      0.1, 6.0,
      w_pm_dyn_top + w_pm_dyn_curve + w_pm_dyn_side + w_pm_dyn_cloud,
      from_rows(w_pm_stat_rows) + from_rows(w_pm_stat_fill) + w_pm_stat_top + w_pm_stat_loop
      + w_pm_stat_tail,
      '#868686', 'CONTAM Using Static Temperature (2.7C)', pm_label, (288, 348), (93, 384), 0.95,
      True)

panel((548, 50, 892, 310), (-1, 2), [-1, 0, 1, 2], ['-1', '0', '1', '2'],
      0.2, 1.0,
      w_wv_dyn_arm + w_wv_dyn_tail + w_wv_dyn_cloud,
      from_rows(w_wv_stat_rows) + from_rows(w_wv_stat_fill) + w_wv_stat_loop + w_wv_stat_spike
      + w_wv_stat_right,
      '#868686', 'CONTAM Using Static Temperature (2.7C)', wv_label, (719, 348), (551, 386), 0.65,
      True)

panel((98, 506, 442, 779), (-0.5, 1.5), [-0.5, 0, 0.5, 1, 1.5], ['-0.5', '0', '0.5', '1', '1.5'],
      0.1, 6.0,
      s_pm_dyn_top + s_pm_dyn_left + s_pm_dyn_loop + s_pm_dyn_floor + s_pm_dyn_upper
      + from_rows(s_pm_dyn_rows) + from_rows(s_pm_dyn_fill),
      from_rows(s_pm_stat_rows) + from_rows(s_pm_stat_fill) + s_pm_stat_arc + s_pm_stat_tail,
      '#a9a9a9', 'CONTAM Using Static Temperature (18.7C)', pm_label, (276, 823), (108, 851), 0.9,
      True)

panel((548, 506, 892, 779), (-0.4, 0.6), [-0.4, -0.2, 0, 0.2, 0.4, 0.6],
      ['-0.4', '-0.2', '0', '0.2', '0.4', '0.6'],
      0.04, 6.0,
      from_rows(s_wv_dyn_rows) + from_rows(s_wv_dyn_fill) + s_wv_dyn_extra,
      from_rows(s_wv_stat_rows) + from_rows(s_wv_stat_fill) + s_wv_stat_arc + s_wv_stat_top
      + s_wv_stat_right,
      '#8e8e8e', 'CONTAM Using Static Temperature (18.7C)', wv_label, (720, 823), (550, 848), 0.75,
      False)

# titles and row labels
title_font = dict(family=['Lato', 'DejaVu Sans'], fontweight='bold', fontsize=10, color=TXT,
                  ha='center', va='center')
fig.text(247 / W, 1 - 30 / H, 'PM2.5', **title_font)
fig.text(708 / W, 1 - 30 / H, 'Water Vapour', **title_font)
side = dict(rotation=90, fontsize=FS, color=TXT, ha='center', va='center')
fig.text(32 / W, 1 - 206 / H, 'Winter', fontweight='bold', **side)
fig.text(28 / W, 1 - 649 / H, 'Summer', fontweight='bold', **side)
fig.text(66 / W, 1 - 179 / H, 'Wind Speed [m/s]', **side)
fig.text(52 / W, 1 - 645 / H, 'Wind Speed [m/s]', **side)

# cell borders
frame = dict(color='#a0a0a0', lw=2, transform=fig.transFigure)
fig.add_artist(Line2D([10 / W, 1], [1 - 9 / H, 1 - 9 / H], **frame))
fig.add_artist(Line2D([10 / W, 10 / W], [0, 1 - 9 / H], **frame))
fig.add_artist(Line2D([485 / W, 485 / W], [0, 1 - 9 / H], **frame))
fig.add_artist(Line2D([10 / W, 1], [1 - 483 / H, 1 - 483 / H], **frame))

fig.savefig('out.png', dpi=100)
